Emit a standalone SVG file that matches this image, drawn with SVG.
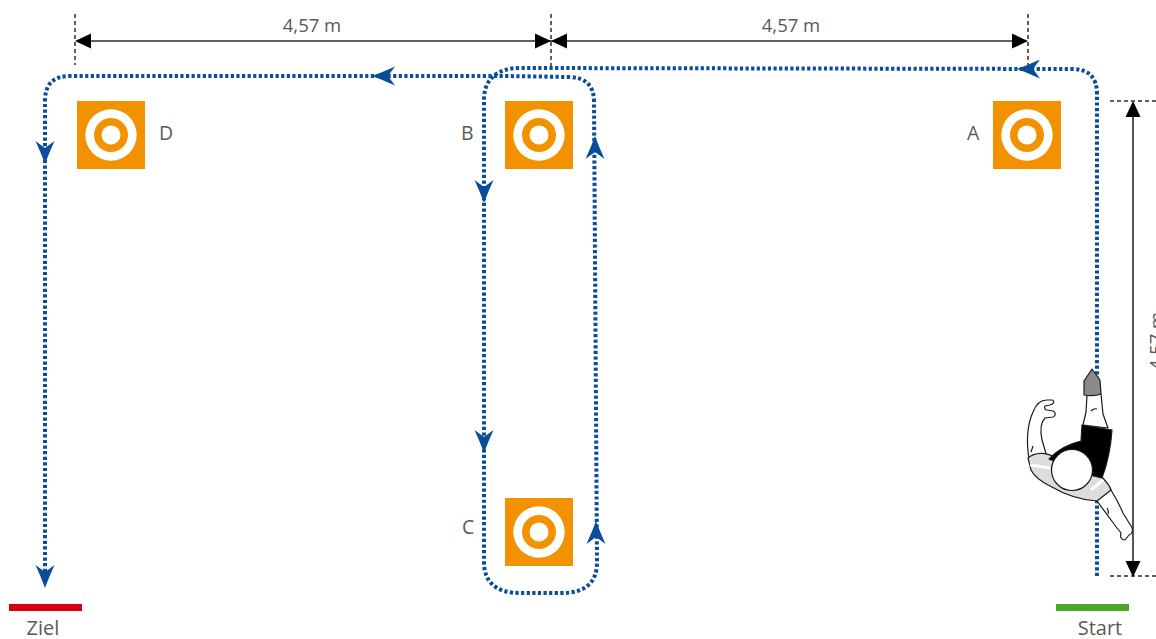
<svg xmlns="http://www.w3.org/2000/svg" width="1156" height="639" viewBox="0 0 1156 639">
  <style>
    .lbl { font-family: "Open Sans", "Noto Sans", sans-serif; fill: #5a5a5a; }
    .dim { font-size: 18.5px; text-anchor: middle; }
    .mark { font-size: 19.5px; }
    .foot { font-size: 20px; text-anchor: middle; }
    .dimline { stroke: #2b2b2b; stroke-width: 1.6; fill: none; }
    .tick { stroke: #2b2b2b; stroke-width: 1.5; stroke-dasharray: 4 3; fill: none; }
    .route { stroke: #0a4e9b; stroke-width: 4; stroke-dasharray: 3.2 2.4; fill: none; }
    .body { stroke: #1a1a1a; stroke-width: 1.2; stroke-linejoin: round; }
  </style>
  <defs>
    <!-- route arrowhead, tip at origin, pointing +x -->
    <path id="routeHead" d="M0,0 Q-11,-4 -23,-9.5 L-16,0 L-23,9.5 Q-11,4 0,0 Z" fill="#0a4e9b"/>
    <!-- dimension arrowhead, tip at origin, pointing +x -->
    <path id="dimHead" d="M0,0 L-16,-7.5 L-16,7.5 Z" fill="#000"/>
    <!-- cone / target marker -->
    <g id="target">
      <rect x="-34" y="-34" width="68" height="68" fill="#f39200"/>
      <circle r="25.7" fill="#fff"/>
      <circle r="17" fill="#f39200"/>
      <circle r="9.5" fill="#fff"/>
    </g>
  </defs>

  <rect width="1156" height="639" fill="#fff"/>

  <!-- dimensions -->
  <g id="dimensions">
    <line class="tick" x1="75" y1="14" x2="75" y2="65"/>
    <line class="tick" x1="551" y1="14" x2="551" y2="66"/>
    <line class="tick" x1="1028" y1="14" x2="1028" y2="65"/>
    <line class="dimline" x1="80" y1="41" x2="1023" y2="41"/>
    <use href="#dimHead" transform="translate(75,41) rotate(180)"/>
    <use href="#dimHead" transform="translate(551,41)"/>
    <use href="#dimHead" transform="translate(551,41) rotate(180)"/>
    <use href="#dimHead" transform="translate(1028,41)"/>
    <text class="lbl dim" x="312" y="32">4,57 m</text>
    <text class="lbl dim" x="791" y="32">4,57 m</text>

    <line class="tick" x1="1110" y1="101" x2="1156" y2="101"/>
    <line class="tick" x1="1110" y1="576" x2="1156" y2="576"/>
    <line class="dimline" x1="1133" y1="106" x2="1133" y2="572"/>
    <use href="#dimHead" transform="translate(1133,101) rotate(-90)"/>
    <use href="#dimHead" transform="translate(1133,577) rotate(90)"/>
    <text class="lbl dim" transform="translate(1163,341) rotate(-90)">4,57 m</text>
  </g>

  <!-- targets -->
  <g id="target-D">
    <use href="#target" x="111" y="135"/>
    <text class="lbl mark" x="159" y="140">D</text>
  </g>
  <g id="target-B">
    <use href="#target" x="539" y="135"/>
    <text class="lbl mark" x="461" y="140">B</text>
  </g>
  <g id="target-A">
    <use href="#target" x="1027" y="135"/>
    <text class="lbl mark" x="967" y="140">A</text>
  </g>
  <g id="target-C">
    <use href="#target" x="539" y="532"/>
    <text class="lbl mark" x="462" y="534">C</text>
  </g>

  <!-- running route -->
  <g id="connectors">
    <path class="route" d="M1097,576 L1097,94 Q1097,69 1072,69 L520,68 C496,68 484,80 484,100 L484,562 C484,582 496,593 520,593 L562,593 C586,593 597,582 597,562 L594,102 Q594,77 568,77 L505,76 L70,76 Q45,76 45,101 L45,585"/>
    <use href="#routeHead" transform="translate(1017,69) rotate(180)"/>
    <use href="#routeHead" transform="translate(372,76) rotate(180)"/>
    <use href="#routeHead" transform="translate(45,164) rotate(90)"/>
    <use href="#routeHead" transform="translate(45,588) rotate(90)"/>
    <use href="#routeHead" transform="translate(484,203) rotate(90)"/>
    <use href="#routeHead" transform="translate(484,453) rotate(90)"/>
    <use href="#routeHead" transform="translate(595,136) rotate(-90)"/>
    <use href="#routeHead" transform="translate(596,521) rotate(-90)"/>
  </g>

  <!-- finish and start lines -->
  <g id="finish">
    <rect x="9" y="604" width="73" height="7" fill="#d7000f"/>
    <text class="lbl foot" x="43" y="635">Ziel</text>
  </g>
  <g id="start">
    <rect x="1056" y="604" width="73" height="7" fill="#4aa82c"/>
    <text class="lbl foot" x="1100" y="635">Start</text>
  </g>

  <!-- runner seen from above -->
  <g id="runner">
    <path class="body" fill="#fff" d="M1029,459 C1026,440 1028,423 1033,412 C1036,404 1041,400 1047,400 L1052,400 C1055,401 1054,404 1050,405 L1045,406 C1044,408 1045,410 1047,410 L1053,411 C1056,412 1056,416 1053,417 L1045,418 C1041,422 1040,430 1042,440 L1047,457 Z"/>
    <path class="body" fill="none" d="M1031,452 L1033,446"/>
    <path class="body" fill="#dcdddd" d="M1028,458 C1035,452 1046,452 1054,457 L1100,475 C1106,481 1110,486 1111,490 C1107,496 1102,499 1097,501 C1080,500 1062,493 1050,486 C1040,481 1034,476 1031,470 Z"/>
    <path d="M1030,465 L1050,468" stroke="#fff" stroke-width="3"/>
    <path d="M1091,490 L1103,480" stroke="#fff" stroke-width="3"/>
    <path class="body" fill="#fff" d="M1087,395 L1101,394 L1103,414 L1108,428 L1083,425 L1086,412 Z"/>
    <path class="body" fill="none" d="M1091,411 Q1094,408 1097,409"/>
    <path class="body" fill="#8a8a8a" d="M1092,369 L1100,380 L1101,394 C1096,396 1090,396 1084,395 L1084,381 Z"/>
    <path class="body" fill="#000" d="M1082,425 L1112,430 C1111,445 1108,462 1102,478 L1085,474 L1049,459 C1057,450 1068,444 1081,441 Z"/>
    <path class="body" fill="#fff" d="M1097,501 L1111,490 C1116,498 1120,506 1123,513 L1131,526 C1134,530 1132,534 1129,535 L1125,540 C1121,540 1120,537 1121,533 L1117,528 Z"/>
    <path class="body" fill="none" d="M1107,508 Q1109,511 1108,514"/>
    <circle class="body" cx="1072" cy="470" r="20.5" fill="#fff"/>
  </g>
</svg>
